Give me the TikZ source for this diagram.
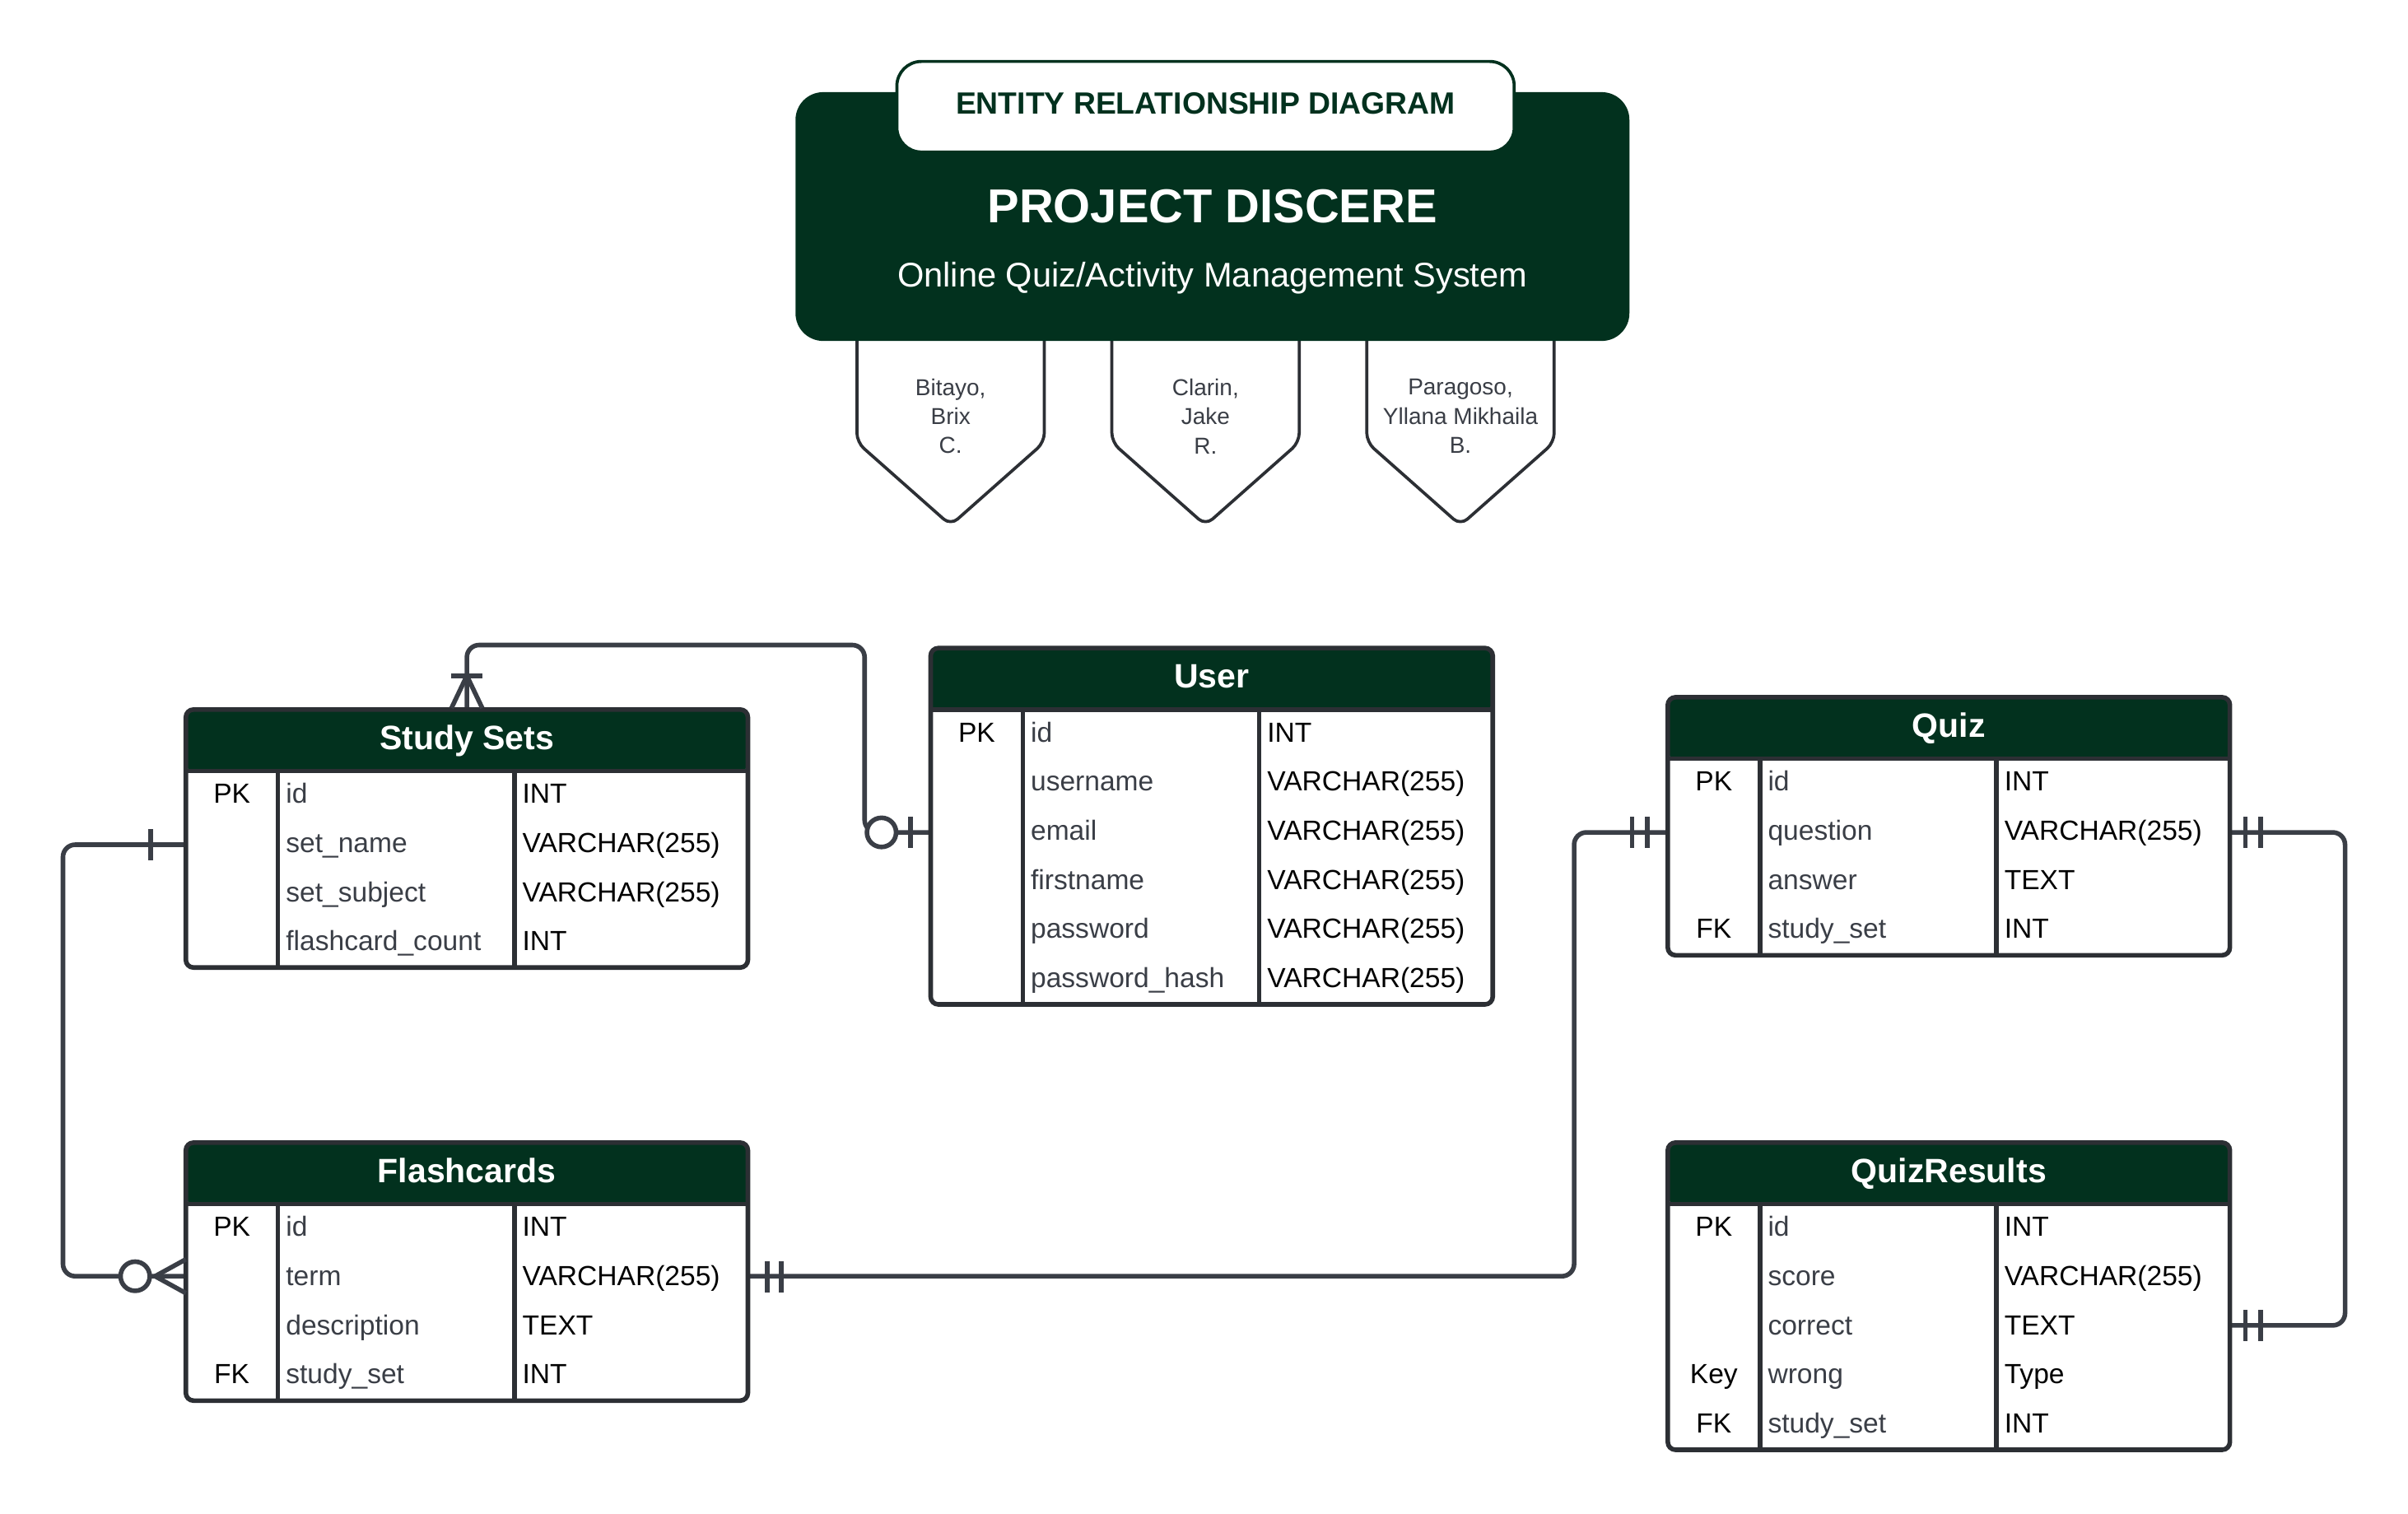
\documentclass[tikz,border=0pt]{standalone}
\usepackage{fontspec}
\setmainfont{Liberation Sans}
\definecolor{hdr}{RGB}{2,49,30}
\definecolor{lnc}{RGB}{58,62,70}
\definecolor{tblc}{RGB}{44,47,52}
\definecolor{fldc}{RGB}{58,62,70}
\newcommand\erdrow[6]{%
  \def\erdkey{#4}%
  \ifx\erdkey\empty\else
    \node[keyt] (#1k) at (#2+30,#3+21) {#4};%
  \fi
  \node[fldt] (#1f) at (#2+65,#3+21) {#5};%
  \node[typt] (#1t) at (#2+219,#3+21) {#6};%
}
\newcommand\erdtable[5]{%
  \node[tbl, minimum height={40+32*#4}] (#1) at (#2,#3) {};
  \draw[divl] (#2,#3+40) -- (#2+366,#3+40);
  \draw[divl] (#2+60,#3+40) -- (#2+60,#3+40+32*#4);
  \draw[divl] (#2+214,#3+40) -- (#2+214,#3+40+32*#4);
  \node[ttl] (#1h) at (#2+183,#3+26) {#5};
}
\begin{document}
\begin{tikzpicture}[x=1pt,y=-1pt,
  tbl/.style={draw=tblc, line width=3pt, rounded corners=5pt, fill=white,
    anchor=north west, inner sep=0pt, outer sep=0pt, minimum width=366pt,
    path picture={\fill[hdr] (path picture bounding box.north west) rectangle ([yshift=-40pt]path picture bounding box.east |- path picture bounding box.north);}},
  divl/.style={draw=tblc, line width=3pt},
  ttl/.style={anchor=base, inner sep=0pt, text=white, font=\bfseries\fontsize{22}{26}\selectfont},
  keyt/.style={anchor=base, inner sep=0pt, text=black, font=\fontsize{18}{21}\selectfont},
  fldt/.style={anchor=base west, inner sep=0pt, text=fldc, font=\fontsize{18}{21}\selectfont},
  typt/.style={anchor=base west, inner sep=0pt, text=black, font=\fontsize{18}{21}\selectfont},
  conn/.style={draw=lnc, line width=3pt, rounded corners=8pt},
  mk/.style={draw=lnc, line width=3pt},
  tagshape/.style={draw=tblc, fill=white, line width=2pt, rounded corners=6pt, line join=round},
  tagt/.style={align=center, inner sep=0pt, text=fldc, font=\fontsize{15}{19}\selectfont}
]
\useasboundingbox (0,0) rectangle (1568,985.3);

% ---- name tags ----
\foreach \cx/\nm in {619/tagA,785/tagB,951/tagC}{
  \draw[tagshape] (\cx-61,210) -- (\cx-61,288) -- (\cx,342) -- (\cx+61,288) -- (\cx+61,210);
}
\node[tagt] (nA) at (619,271) {Bitayo,\\Brix\\C.};
\node[tagt] (nB) at (785,271) {Clarin,\\Jake\\R.};
\node[tagt] (nC) at (951,271) {Paragoso,\\Yllana Mikhaila\\B.};

% ---- banner ----
\node[fill=hdr, rounded corners=18pt, minimum width=543pt, minimum height=162pt, inner sep=0pt, outer sep=0pt, anchor=north west] (banner) at (518,60) {};
\node[draw=hdr, fill=white, line width=2pt, rounded corners=16pt, minimum width=402pt, minimum height=59pt, inner sep=0pt, outer sep=0pt, anchor=north west] (tab) at (584,40) {};
\node[anchor=base, inner sep=0pt, text=hdr, font=\bfseries\fontsize{20}{24}\selectfont] (erd) at (785,74) {ENTITY RELATIONSHIP DIAGRAM};
\node[anchor=base, inner sep=0pt, text=white, font=\bfseries\fontsize{31}{36}\selectfont] (proj) at (789.5,145) {PROJECT DISCERE};
\node[anchor=base, inner sep=0pt, text=white, font=\fontsize{22.3}{26}\selectfont] (sub) at (789.5,187) {Online Quiz/Activity Management System};

% ---- connection points ----
\coordinate (ssT) at (304,462);
\coordinate (ssL) at (121,550);
\coordinate (uL) at (606,542);
\coordinate (fcL) at (121,831);
\coordinate (fcR) at (487,831);
\coordinate (qzL) at (1086,542);
\coordinate (qzR) at (1452,542);
\coordinate (qrR) at (1452,863);

% ---- connectors ----
\draw[conn] (ssT) -- (304,420) -- (563,420) -- (563,542) -- (uL);
\draw[conn] (ssL) -- (41,550) -- (41,831) -- (fcL);
\draw[conn] (fcR) -- (1025,831) -- (1025,542) -- (qzL);
\draw[conn] (qzR) -- (1527,542) -- (1527,863) -- (qrR);

% ---- tables ----
\erdtable{ss}{121}{462}{4}{Study Sets}
\erdrow{ss1}{121}{502}{PK}{id}{INT}
\erdrow{ss2}{121}{534}{}{set\_name}{VARCHAR(255)}
\erdrow{ss3}{121}{566}{}{set\_subject}{VARCHAR(255)}
\erdrow{ss4}{121}{598}{}{flashcard\_count}{INT}

\erdtable{us}{606}{422}{6}{User}
\erdrow{us1}{606}{462}{PK}{id}{INT}
\erdrow{us2}{606}{494}{}{username}{VARCHAR(255)}
\erdrow{us3}{606}{526}{}{email}{VARCHAR(255)}
\erdrow{us4}{606}{558}{}{firstname}{VARCHAR(255)}
\erdrow{us5}{606}{590}{}{password}{VARCHAR(255)}
\erdrow{us6}{606}{622}{}{password\_hash}{VARCHAR(255)}

\erdtable{qz}{1086}{454}{4}{Quiz}
\erdrow{qz1}{1086}{494}{PK}{id}{INT}
\erdrow{qz2}{1086}{526}{}{question}{VARCHAR(255)}
\erdrow{qz3}{1086}{558}{}{answer}{TEXT}
\erdrow{qz4}{1086}{590}{FK}{study\_set}{INT}

\erdtable{fc}{121}{744}{4}{Flashcards}
\erdrow{fc1}{121}{784}{PK}{id}{INT}
\erdrow{fc2}{121}{816}{}{term}{VARCHAR(255)}
\erdrow{fc3}{121}{848}{}{description}{TEXT}
\erdrow{fc4}{121}{880}{FK}{study\_set}{INT}

\erdtable{qr}{1086}{744}{5}{QuizResults}
\erdrow{qr1}{1086}{784}{PK}{id}{INT}
\erdrow{qr2}{1086}{816}{}{score}{VARCHAR(255)}
\erdrow{qr3}{1086}{848}{}{correct}{TEXT}
\erdrow{qr4}{1086}{880}{Key}{wrong}{Type}
\erdrow{qr5}{1086}{912}{FK}{study\_set}{INT}

% ---- cardinality markers ----
% Study Sets top: one and many
\draw[mk] (294,440) -- (314,440);
\draw[mk] (294,461) -- (304,440) -- (314,461);
% User left: zero or one
\draw[mk, fill=white] (574,542) circle (9.5pt);
\draw[mk] (593,532) -- (593,552);
% Study Sets left: one
\draw[mk] (98,540) -- (98,560);
% Flashcards left: zero or many
\draw[mk, fill=white] (88,831) circle (9.5pt);
\draw[mk] (121,820) -- (101,831) -- (121,842);
% Flashcards right: one and only one
\draw[mk] (499.5,821.5) -- (499.5,841.5);
\draw[mk] (508.7,821.5) -- (508.7,841.5);
% Quiz left
\draw[mk] (1062.7,532) -- (1062.7,552);
\draw[mk] (1072.5,532) -- (1072.5,552);
% Quiz right
\draw[mk] (1462,532) -- (1462,552);
\draw[mk] (1472,532) -- (1472,552);
% QuizResults right
\draw[mk] (1462,853) -- (1462,873);
\draw[mk] (1472,853) -- (1472,873);
\end{tikzpicture}
\end{document}
